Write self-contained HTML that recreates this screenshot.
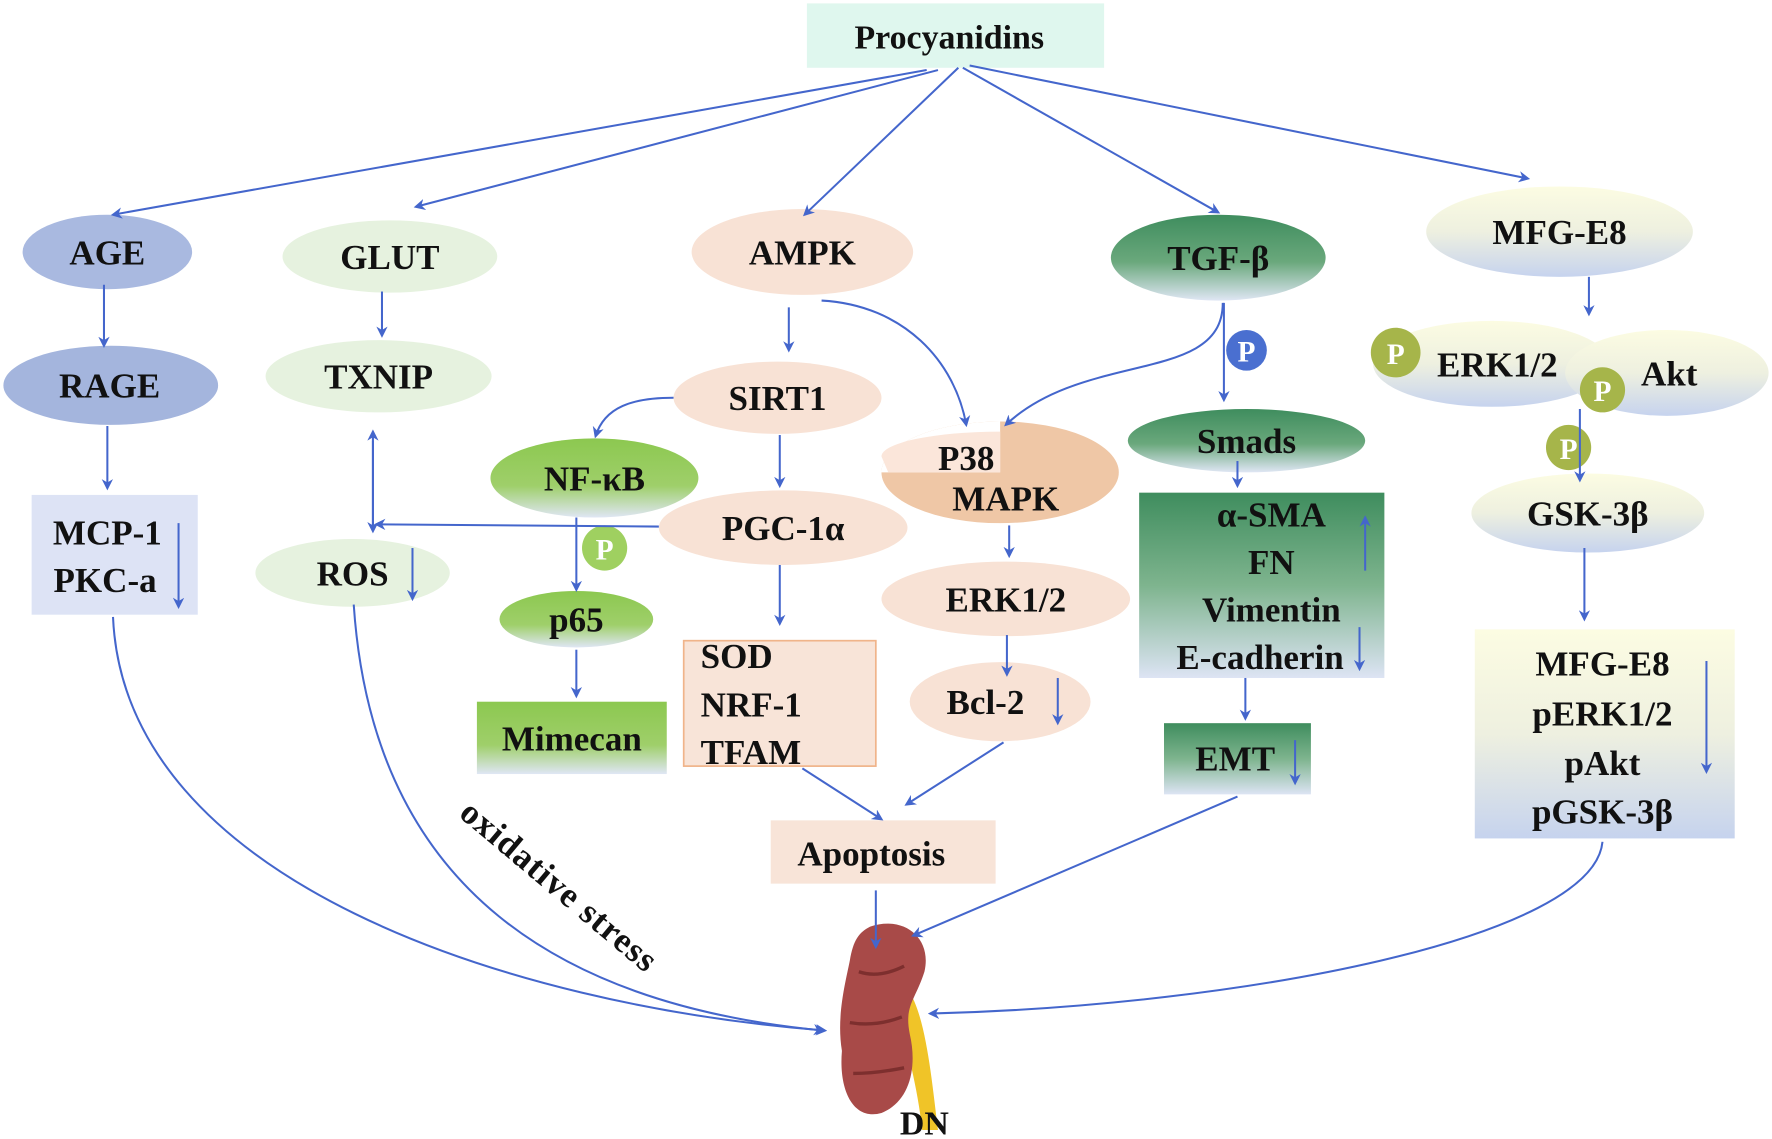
<!DOCTYPE html>
<html><head><meta charset="utf-8"><style>html,body{margin:0;padding:0;background:#fff}svg{display:block}text{font-family:"Liberation Serif",serif;font-weight:bold;fill:#111}</style></head><body>
<svg width="1772" height="1139" viewBox="0 0 1568 1008" preserveAspectRatio="none" xmlns="http://www.w3.org/2000/svg">
<defs>
<marker id="a" markerWidth="10" markerHeight="10" refX="8" refY="5" orient="auto" markerUnits="userSpaceOnUse"><path d="M0,0 L10,5 L0,10 L3,5 Z" fill="#4466cc"/></marker>
<linearGradient id="gg" x1="0" y1="0" x2="0" y2="1"><stop offset="0" stop-color="#3f8d5e"/><stop offset="0.55" stop-color="#6aa87c"/><stop offset="1" stop-color="#dfe6f4"/></linearGradient>
<linearGradient id="lg" x1="0" y1="0" x2="0" y2="1"><stop offset="0" stop-color="#8cc850"/><stop offset="0.6" stop-color="#9fcf6a"/><stop offset="1" stop-color="#dfe6f4"/></linearGradient>
<linearGradient id="yg" x1="0" y1="0" x2="0" y2="1"><stop offset="0" stop-color="#fcfce2"/><stop offset="0.5" stop-color="#eef0e0"/><stop offset="1" stop-color="#c6d3ee"/></linearGradient>
<linearGradient id="bg" x1="0" y1="0" x2="0" y2="1"><stop offset="0" stop-color="#3f8d5e"/><stop offset="0.5" stop-color="#7eb48e"/><stop offset="1" stop-color="#dde4f4"/></linearGradient>
</defs>
<rect x="714" y="3" width="263" height="57" fill="#dff7ee"/>
<ellipse cx="95" cy="223" rx="75" ry="33" fill="#a9b9e0"/>
<ellipse cx="98" cy="341" rx="95" ry="35" fill="#a4b5dd"/>
<rect x="28" y="438" width="147" height="106" fill="#dde3f5"/>
<ellipse cx="345" cy="227" rx="95" ry="32" fill="#e6f2df"/>
<ellipse cx="335" cy="333" rx="100" ry="32" fill="#e6f2df"/>
<ellipse cx="312" cy="507" rx="86" ry="30" fill="#e6f2df"/>
<ellipse cx="710" cy="223" rx="98" ry="38" fill="#f8e2d5"/>
<ellipse cx="688" cy="352" rx="92" ry="32" fill="#f8e2d5"/>
<ellipse cx="693" cy="467" rx="110" ry="33" fill="#f8e2d5"/>
<rect x="605" y="567" width="170" height="111" fill="#f8e4d8" stroke="#f0b48a" stroke-width="1.5"/>
<ellipse cx="526" cy="423" rx="92" ry="35" fill="url(#lg)"/>
<ellipse cx="510" cy="548" rx="68" ry="25" fill="url(#lg)"/>
<rect x="422" y="621" width="168" height="64" fill="url(#lg)"/>
<circle cx="535" cy="485" r="20" fill="#9fd060"/>
<ellipse cx="885" cy="418" rx="105" ry="45" fill="#efc7a6"/>
<path d="M780 418 A105 45 0 0 1 885 373 L885 418 Z" fill="#fff"/>
<path d="M780 404 A105 22 0 0 1 885 382 L885 418 L786 418 Z" fill="#fbe6da"/>
<ellipse cx="890" cy="530" rx="110" ry="33" fill="#f8e2d5"/>
<ellipse cx="885" cy="621" rx="80" ry="35" fill="#f8e2d5"/>
<rect x="682" y="726" width="199" height="56" fill="#f8e4d8"/>
<ellipse cx="1078" cy="228" rx="95" ry="38" fill="url(#gg)"/>
<circle cx="1103" cy="310" r="18" fill="#4a6fd0"/>
<ellipse cx="1103" cy="390" rx="105" ry="28" fill="url(#gg)"/>
<rect x="1008" y="436" width="217" height="164" fill="url(#bg)"/>
<rect x="1030" y="640" width="130" height="63" fill="url(#bg)"/>
<ellipse cx="1380" cy="205" rx="118" ry="40" fill="url(#yg)"/>
<ellipse cx="1320" cy="322" rx="105" ry="38" fill="url(#yg)"/>
<ellipse cx="1475" cy="330" rx="90" ry="38" fill="url(#yg)"/>
<ellipse cx="1405" cy="454" rx="103" ry="35" fill="url(#yg)"/>
<rect x="1305" y="557" width="230" height="185" fill="url(#yg)"/>
<g fill="#a6b54a"><circle cx="1235" cy="312" r="22"/><circle cx="1418" cy="345" r="20"/><circle cx="1388" cy="396" r="20"/></g>
<path d="M806 880 C820 905 825 960 830 1000 L816 1000 C812 960 800 920 795 895 Z" fill="#f0c428"/>
<path d="M770 820 C800 810 825 830 818 860 C810 885 800 890 805 915 C812 945 805 975 780 985 C755 992 742 965 745 930 C740 900 748 870 752 850 C755 832 760 825 770 820 Z" fill="#a84a48"/>
<path d="M760 860 C775 865 790 860 800 855 M752 905 C770 908 785 905 798 900 M755 950 C770 950 785 948 800 945" stroke="#7d2f2e" stroke-width="3" fill="none"/>
<g stroke="#4466cc" stroke-width="1.8" fill="none" marker-end="url(#a)">
<line x1="820" y1="62" x2="100" y2="190"/>
<line x1="830" y1="62" x2="368" y2="183"/>
<line x1="848" y1="60" x2="712" y2="190"/>
<line x1="852" y1="60" x2="1078" y2="188"/>
<line x1="858" y1="58" x2="1352" y2="158"/>
<line x1="92" y1="252" x2="92" y2="306"/>
<line x1="95" y1="377" x2="95" y2="432"/>
<line x1="338" y1="258" x2="338" y2="297"/>
<line x1="698" y1="272" x2="698" y2="310"/>
<line x1="690" y1="385" x2="690" y2="430"/>
<line x1="690" y1="500" x2="690" y2="552"/>
<line x1="510" y1="458" x2="510" y2="522"/>
<line x1="510" y1="575" x2="510" y2="616"/>
<line x1="893" y1="465" x2="893" y2="492"/>
<line x1="891" y1="562" x2="891" y2="597"/>
<line x1="1083" y1="268" x2="1083" y2="354"/>
<line x1="1095" y1="408" x2="1095" y2="430"/>
<line x1="1102" y1="600" x2="1102" y2="636"/>
<line x1="1406" y1="245" x2="1406" y2="278"/>
<line x1="1398" y1="362" x2="1398" y2="425"/>
<line x1="1402" y1="485" x2="1402" y2="548"/>
<line x1="775" y1="788" x2="775" y2="838"/>
<line x1="710" y1="680" x2="780" y2="725"/>
<line x1="888" y1="657" x2="802" y2="712"/>
<line x1="1095" y1="705" x2="808" y2="828"/>
<line x1="583" y1="466" x2="333" y2="464"/>
<path d="M596 352 C560 352 535 360 527 386"/>
<path d="M727 266 C800 270 845 320 855 376"/>
<path d="M1082 268 C1082 340 960 310 890 376"/>
<path d="M100 546 C110 780 450 890 730 912"/>
<path d="M313 535 C330 790 500 890 728 912"/>
<path d="M1418 745 C1410 830 1100 890 823 897"/>
<line x1="330" y1="470" x2="330" y2="382"/>
<line x1="330" y1="390" x2="330" y2="470"/>
<line x1="158" y1="463" x2="158" y2="537"/>
<line x1="365" y1="485" x2="365" y2="530"/>
<line x1="936" y1="600" x2="936" y2="640"/>
<line x1="1208" y1="505" x2="1208" y2="458"/>
<line x1="1203" y1="555" x2="1203" y2="592"/>
<line x1="1146" y1="655" x2="1146" y2="693"/>
<line x1="1510" y1="585" x2="1510" y2="683"/>
</g>
<g font-size="26" text-anchor="middle"><text x="535" y="495" style="fill:#fff">P</text><text x="1103" y="320" style="fill:#fff">P</text><text x="1235" y="322" style="fill:#fff">P</text><text x="1418" y="355" style="fill:#fff">P</text><text x="1388" y="406" style="fill:#fff">P</text></g>
<text x="840" y="43" font-size="30" text-anchor="middle">Procyanidins</text>
<g font-size="31" text-anchor="middle">
<text x="95" y="234">AGE</text><text x="97" y="352">RAGE</text>
<text x="95" y="482">MCP-1</text><text x="93" y="524">PKC-a</text>
<text x="345" y="238">GLUT</text><text x="335" y="344">TXNIP</text><text x="312" y="518">ROS</text>
<text x="710" y="234">AMPK</text><text x="688" y="363">SIRT1</text><text x="693" y="478">PGC-1α</text>
<text x="526" y="434">NF-κB</text><text x="510" y="559">p65</text><text x="506" y="664">Mimecan</text>
<text x="855" y="416">P38</text><text x="890" y="452">MAPK</text>
<text x="890" y="541">ERK1/2</text><text x="872" y="632">Bcl-2</text>
<text x="771" y="766">Apoptosis</text>
<text x="1078" y="239">TGF-β</text><text x="1103" y="401">Smads</text>
<text x="1125" y="466">α-SMA</text><text x="1125" y="508">FN</text><text x="1125" y="550">Vimentin</text><text x="1115" y="592">E-cadherin</text>
<text x="1093" y="682">EMT</text>
<text x="1380" y="216">MFG-E8</text><text x="1325" y="333">ERK1/2</text><text x="1477" y="341">Akt</text>
<text x="1405" y="465">GSK-3β</text>
<text x="1418" y="598">MFG-E8</text><text x="1418" y="642">pERK1/2</text><text x="1418" y="686">pAkt</text><text x="1418" y="729">pGSK-3β</text>
</g>
<g font-size="31"><text x="620" y="591">SOD</text><text x="620" y="634">NRF-1</text><text x="620" y="676">TFAM</text></g>
<text x="0" y="0" font-size="31" letter-spacing="1" transform="translate(405,722) rotate(40)">oxidative stress</text>
<text x="818" y="1004" font-size="30" text-anchor="middle">DN</text>
</svg>
</body></html>
